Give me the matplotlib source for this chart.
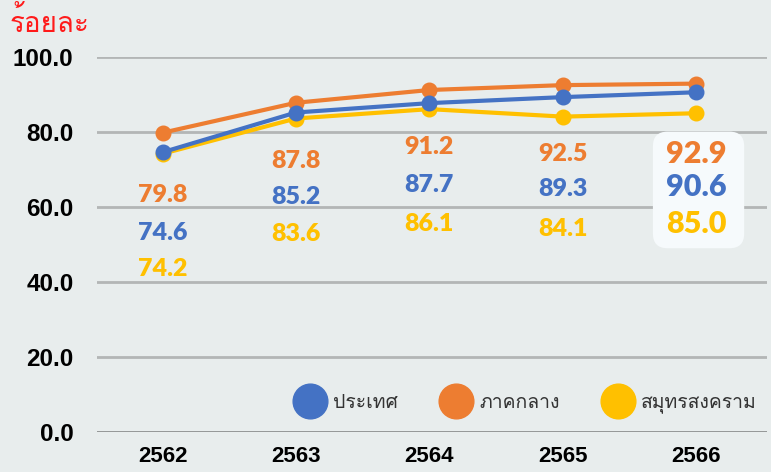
import matplotlib
matplotlib.use('Agg')
import matplotlib.pyplot as plt
from matplotlib import font_manager, ft2font
from matplotlib.lines import Line2D
from matplotlib.patches import FancyBboxPatch

years = ['2562', '2563', '2564', '2565', '2566']
country = [74.6, 85.2, 87.7, 89.3, 90.6]
central = [79.8, 87.8, 91.2, 92.5, 92.9]
samut = [74.2, 83.6, 86.1, 84.1, 85.0]
series_names = ['ประเทศ', 'ภาคกลาง', 'สมุทรสงคราม']
y_ticks = [0, 20, 40, 60, 80, 100]

BLUE = '#4472C4'
ORANGE = '#ED7D31'
YELLOW = '#FFC000'
BG = '#E8EDED'


def find_thai_font():
    # first installed face that has Thai glyphs
    for entry in font_manager.fontManager.ttflist:
        try:
            cmap = ft2font.FT2Font(entry.fname).get_charmap()
        except Exception:
            continue
        if 0x0E1B in cmap and 0x0E28 in cmap and 0x0E2D in cmap:
            return entry.name
    return 'DejaVu Sans'


thai = find_thai_font()
num_font = ['Lato', 'DejaVu Sans']
tick_font = ['Liberation Sans', 'DejaVu Sans']

fig = plt.figure(figsize=(7.71, 4.72), dpi=100)
fig.patch.set_facecolor(BG)
ax = fig.add_axes([97 / 771, 40 / 472, 670 / 771, 375 / 472])
ax.set_facecolor(BG)

x = list(range(len(years)))
ax.set_xlim(-0.491, 4.53)
ax.set_ylim(0, 100)

for v in y_ticks[1:]:
    ax.axhline(v, color='#B3B6B6', lw=2, zorder=1)
ax.axhline(0, color='#8C8F8F', lw=2, zorder=1)

for s, c, z in [(samut, YELLOW, 3), (central, ORANGE, 4), (country, BLUE, 5)]:
    ax.plot(x, s, color=c, lw=3, marker='o', ms=10.5, zorder=z, clip_on=False)

# value labels under the lines
lab_y = {
    'central': [63.3, 72.3, 76.0, 74.1, 74.2],
    'country': [53.2, 62.8, 66.0, 64.8, 65.3],
    'samut': [43.5, 52.9, 55.5, 54.1, 55.5],
}
for i in range(len(years)):
    fs = 22 if i == 4 else 18
    ax.text(i, lab_y['central'][i], f'{central[i]:.1f}', color=ORANGE, fontsize=fs,
            fontweight='heavy', family=num_font, ha='center', va='center', zorder=7)
    ax.text(i, lab_y['country'][i], f'{country[i]:.1f}', color=BLUE, fontsize=fs,
            fontweight='heavy', family=num_font, ha='center', va='center', zorder=7)
    ax.text(i, lab_y['samut'][i], f'{samut[i]:.1f}', color=YELLOW, fontsize=fs,
            fontweight='heavy', family=num_font, ha='center', va='center', zorder=7)

# highlight box behind the latest year
box = FancyBboxPatch((3.675, 49.0), 0.684, 31.1,
                     boxstyle='round,pad=0,rounding_size=0.11',
                     mutation_aspect=133.4 / 3.75,
                     facecolor='#F6FAFC', edgecolor='none', zorder=6)
ax.add_patch(box)

for side in ['top', 'right', 'left', 'bottom']:
    ax.spines[side].set_visible(False)

ax.set_xticks(x)
ax.set_xticklabels(years)
ax.set_yticks(y_ticks)
ax.set_yticklabels([f'{v:.1f}' for v in y_ticks])
ax.tick_params(axis='y', length=0, pad=17)
ax.tick_params(axis='x', length=0, pad=10)
for lab in ax.get_xticklabels():
    lab.set_family(tick_font)
    lab.set_fontweight('bold')
    lab.set_fontsize(16)
    lab.set_color('black')
for lab in ax.get_yticklabels():
    lab.set_family(tick_font)
    lab.set_fontweight('bold')
    lab.set_fontsize(17.5)
    lab.set_color('black')

fig.text(10 / 771, 1 - 22 / 472, 'ร้อยละ', color='#FF1A1A', fontsize=20,
         family=[thai, 'DejaVu Sans'], va='center', ha='left')

handles = [Line2D([], [], ls='none', marker='o', ms=25, color=c) for c in (BLUE, ORANGE, YELLOW)]
leg = ax.legend(handles, series_names, ncol=3, loc='center right',
                bbox_to_anchor=(1.011, 7.5 / 100), frameon=False,
                handlelength=1.0, handletextpad=0.69, columnspacing=2.5,
                prop={'family': [thai, 'DejaVu Sans'], 'size': 14})
for t in leg.get_texts():
    t.set_color('#333333')

fig.savefig('out.png', dpi=100, facecolor=BG)
